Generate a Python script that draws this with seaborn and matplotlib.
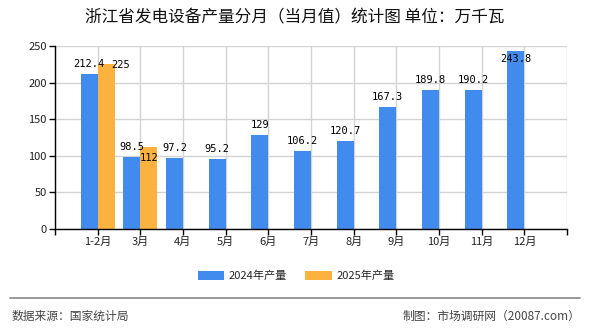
import matplotlib
matplotlib.use("Agg")
import matplotlib.pyplot as plt
import seaborn as sns
import pandas as pd
from matplotlib.patches import Patch

months = ["1-2月", "3月", "4月", "5月", "6月", "7月", "8月", "9月", "10月", "11月", "12月"]
series_names = ["2024年产量", "2025年产量"]
values_2024 = [212.4, 98.5, 97.2, 95.2, 129, 106.2, 120.7, 167.3, 189.8, 190.2, 243.8]
values_2025 = [225, 112]
y_ticks = [0, 50, 100, 150, 200, 250]

title = "浙江省发电设备产量分月（当月值）统计图 单位：万千瓦"
source_text = "数据来源：国家统计局"
credit_text = "制图：市场调研网（20087.com）"

colors = ["#428BEE", "#FCB23E"]

rows = []
for m, v in zip(months, values_2024):
    rows.append({"月份": m, "系列": series_names[0], "产量": v})
for m, v in zip(months, values_2025):
    rows.append({"月份": m, "系列": series_names[1], "产量": v})
df = pd.DataFrame(rows)

sns.set_theme(style="white")
plt.rcParams["font.family"] = ["Noto Sans CJK SC", "DejaVu Sans"]

fig = plt.figure(figsize=(5.9, 3.3), dpi=100)
ax = fig.add_axes([55 / 590, 1 - 229 / 330, (567 - 55) / 590, (229 - 46) / 330])

sns.barplot(data=df, x="月份", y="产量", hue="系列", order=months,
            hue_order=series_names, palette=colors, width=0.8, dodge=True,
            saturation=1, ax=ax, legend=False, errorbar=None,
            linewidth=0, edgecolor="none")

ax.set_xlim(-1, len(months))
ax.set_ylim(0, 250)
ax.set_yticks(y_ticks)
ax.set_yticklabels([str(t) for t in y_ticks], fontsize=8, color="#222222")
ax.set_xticks(range(-1, len(months) + 1))
ax.set_xticklabels([""] + months + [""], fontsize=8, color="#222222")
ax.set_xlabel("")
ax.set_ylabel("")
ax.grid(True, color="#D3D3D3", linewidth=1)
ax.set_axisbelow(True)
for s in ["top", "right"]:
    ax.spines[s].set_visible(False)
for s in ["left", "bottom"]:
    ax.spines[s].set_color("black")
    ax.spines[s].set_linewidth(1)
ax.tick_params(axis="both", which="both", length=4, width=1, color="black",
               direction="out", pad=2, left=True, bottom=True)

# value labels
label_offsets = {  # (series, index): (dx px, dy px)
    (1, 0): (14, -6),
    (1, 1): (0, -16),
}
all_vals = [values_2024, values_2025]
for si, cont in enumerate(ax.containers):
    vals = all_vals[si]
    for i, (bar, v) in enumerate(zip(cont.patches, vals)):
        cx = bar.get_x() + bar.get_width() / 2
        dx, dy = label_offsets.get((si, i), (0, 5))
        top_px = ax.transData.transform((cx, v))[1] + dy
        ax_top = ax.transData.transform((cx, 250))[1]
        if top_px + 10 > ax_top:
            dy = dy - (top_px + 18 - ax_top)
        ax.annotate(f"{v:g}", (cx, v), xytext=(dx, dy), textcoords="offset pixels",
                    ha="center", va="bottom", fontsize=7.5, family="DejaVu Sans Mono",
                    color="black")

fig.text(0.5, 1 - 18 / 330, title, ha="center", va="center", fontsize=12, color="#111111")

handles = [Patch(facecolor=c, edgecolor="none") for c in colors]
fig.legend(handles, series_names, loc="center", bbox_to_anchor=(296 / 590, 1 - 276 / 330),
           ncol=2, frameon=False, fontsize=8, handlelength=2.4, handleheight=0.9,
           columnspacing=1.6, handletextpad=0.4)

fig.add_artist(plt.Line2D([10 / 590, 580 / 590], [1 - 298 / 330, 1 - 298 / 330],
                          transform=fig.transFigure, color="#888888", linewidth=1.2))
fig.text(12 / 590, 1 - 316 / 330, source_text, ha="left", va="center", fontsize=8.5, color="#444444")
fig.text(580 / 590, 1 - 316 / 330, credit_text, ha="right", va="center", fontsize=8.5, color="#444444")

fig.savefig("out.png", dpi=100)
